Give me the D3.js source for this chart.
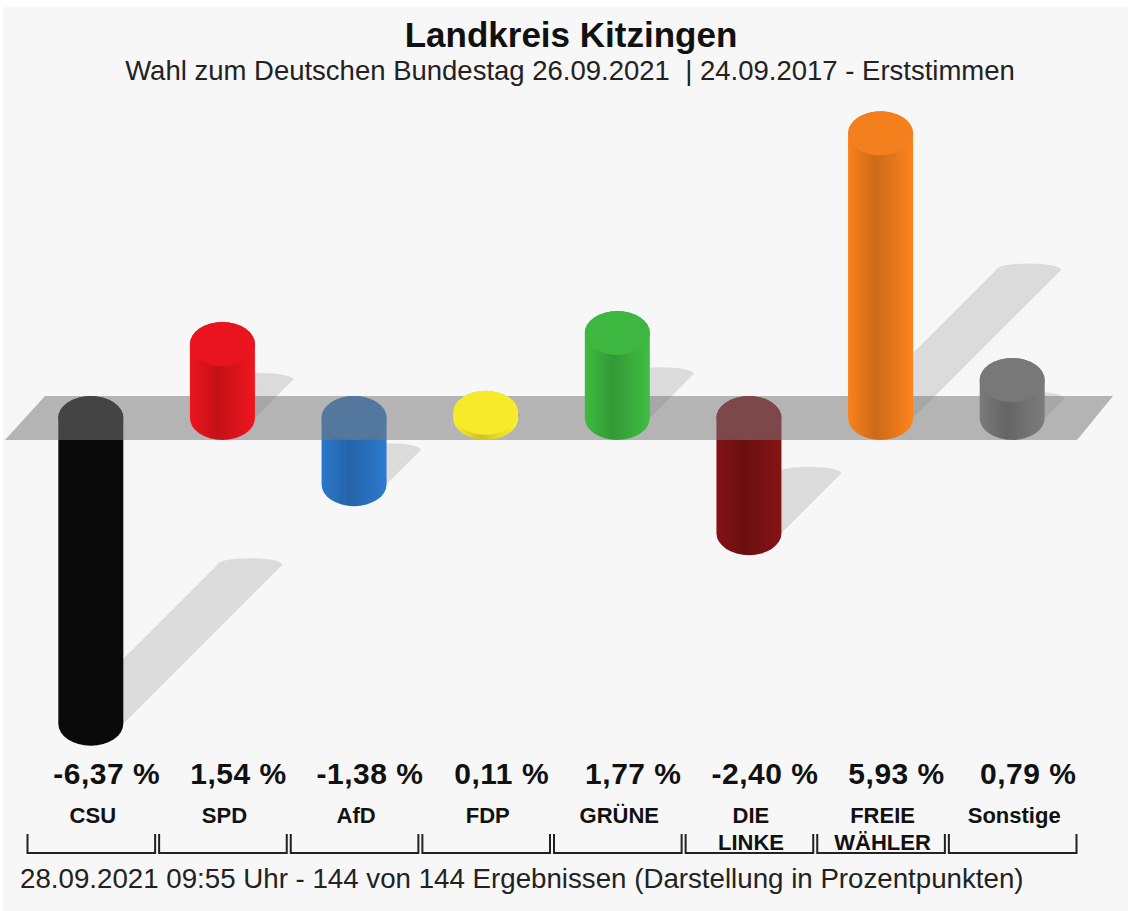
<!DOCTYPE html>
<html>
<head>
<meta charset="utf-8">
<script src="https://cdn.jsdelivr.net/npm/d3@7"></script>
<style>
  body { margin: 0; background: #fff; }
  svg { display: block; font-family: "Liberation Sans", Arial, sans-serif; }
</style>
</head>
<body>
<svg id="chart" width="1131" height="911"></svg>
<script>
const parties = ["CSU", "SPD", "AfD", "FDP", "GRÜNE", "DIE LINKE", "FREIE WÄHLER", "Sonstige"];
const labelLines = [["CSU"], ["SPD"], ["AfD"], ["FDP"], ["GRÜNE"], ["DIE", "LINKE"], ["FREIE", "WÄHLER"], ["Sonstige"]];
const diffs = [-6.37, 1.54, -1.38, 0.11, 1.77, -2.40, 5.93, 0.79];
const partyColors = ["#0a0a0a", "#e5141c", "#2a74c4", "#f2e62a", "#3cb43f", "#7e1214", "#f07d1c", "#767676"];

const svg = d3.select("#chart");
const W = 1131, H = 911;

const x = d3.scaleBand().domain(parties).range([27, 1080]).padding(0);
const y = d3.scaleLinear().domain([-7, 7]).range([754, 82]);

const rx = 32.5, ry = 22;
const cx = d => x(d) + x.bandwidth() / 2 - 2;

const de = d3.formatLocale({ decimal: ",", thousands: ".", grouping: [3], currency: ["", " €"], minus: "-" });
const fmt = de.format(".2f");

const data = parties.map((p, i) => ({ party: p, lines: labelLines[i], value: diffs[i], color: partyColors[i], i }));

// background
svg.append("rect").attr("x", 3).attr("y", 7).attr("width", W - 6).attr("height", H - 7).attr("fill", "#f7f7f7");

// gradients
const defs = svg.append("defs");
data.forEach(d => {
  const base = d3.color(d.color);
  const g = defs.append("linearGradient").attr("id", "grad" + d.i)
    .attr("x1", 0).attr("x2", 1).attr("y1", 0).attr("y2", 0);
  g.append("stop").attr("offset", "0%").attr("stop-color", base.brighter(0.1));
  g.append("stop").attr("offset", "42%").attr("stop-color", base.darker(0.45));
  g.append("stop").attr("offset", "85%").attr("stop-color", base);
  g.append("stop").attr("offset", "100%").attr("stop-color", base.brighter(0.15));
});

// title
svg.append("text").attr("x", 571).attr("y", 47).attr("text-anchor", "middle")
  .attr("font-size", 35).attr("font-weight", "bold").attr("fill", "#111")
  .text("Landkreis Kitzingen");
svg.append("text").attr("x", 570).attr("y", 80).attr("text-anchor", "middle")
  .attr("font-size", 27.5).attr("fill", "#222")
  .style("white-space", "pre")
  .text("Wahl zum Deutschen Bundestag 26.09.2021  | 24.09.2017 - Erststimmen");

const y0 = y(0);

function cylinder(d) {
  const c = cx(d.party);
  const top = Math.min(y(d.value), y0), bot = Math.max(y(d.value), y0);
  return `M${c - rx},${top} A${rx},${ry} 0 0 1 ${c + rx},${top} L${c + rx},${bot} A${rx},${ry} 0 0 1 ${c - rx},${bot} Z`;
}

function shadow(d) {
  const c = cx(d.party);
  const len = Math.abs(y(d.value) - y0);
  const by = d.value >= 0 ? y0 : y(d.value);
  const s = len * 0.52;
  const ex = c + s, ey = by - s;
  return `M${c - rx},${by} L${ex - rx},${ey} A${rx},${ry * 0.3} 0 0 1 ${ex + rx},${ey} L${c + rx},${by} Z`;
}

// shadows
svg.append("g").selectAll("path").data(data).join("path")
  .attr("d", shadow)
  .attr("fill", "#000").attr("fill-opacity", 0.11);

function drawBars(sel) {
  const g = svg.append("g").selectAll("g").data(sel).join("g");
  g.append("path").attr("d", cylinder).attr("fill", d => `url(#grad${d.i})`);
  g.append("ellipse")
    .attr("cx", d => cx(d.party))
    .attr("cy", d => Math.min(y(d.value), y0))
    .attr("rx", rx).attr("ry", ry)
    .attr("fill", d => d3.color(d.color).brighter(0.05));
}

// negative bars hang behind the plane
drawBars(data.filter(d => d.value < 0));

// zero plane
const bx0 = x.range()[0], bx1 = x.range()[1];
svg.append("path")
  .attr("d", `M${bx0 + 18},${y0 - ry} L${bx1 + 33},${y0 - ry} L${bx1 - 3},${y0 + ry} L${bx0 - 22},${y0 + ry} Z`)
  .attr("fill", "#797979").attr("fill-opacity", 0.53);

drawBars(data.filter(d => d.value >= 0));

// values
svg.append("g").selectAll("text").data(data).join("text")
  .attr("x", d => cx(d.party) + 16)
  .attr("y", 784)
  .attr("text-anchor", "middle")
  .attr("font-size", 30).attr("font-weight", "bold").attr("fill", "#111")
  .attr("letter-spacing", 0.5)
  .text(d => fmt(d.value) + " %");

// category labels
const lab = svg.append("g").selectAll("text").data(data).join("text")
  .attr("x", d => cx(d.party) + 2)
  .attr("y", 823)
  .attr("text-anchor", "middle")
  .attr("font-size", 22).attr("font-weight", "bold").attr("fill", "#111");
lab.selectAll("tspan").data(d => d.lines.map(t => ({ t, x: cx(d.party) + 2 }))).join("tspan")
  .attr("x", t => t.x)
  .attr("dy", (t, j) => j === 0 ? 0 : 27)
  .text(t => t.t);

// brackets
svg.append("g").selectAll("path").data(parties).join("path")
  .attr("d", p => {
    const a = x(p) + 0.5, b = x(p) + x.bandwidth() - 3.5;
    return `M${a},834 L${a},853 L${b},853 L${b},834`;
  })
  .attr("fill", "none").attr("stroke", "#222").attr("stroke-width", 2);

// footer
svg.append("text").attr("x", 20).attr("y", 888)
  .attr("font-size", 27.7).attr("fill", "#222")
  .text("28.09.2021 09:55 Uhr - 144 von 144 Ergebnissen (Darstellung in Prozentpunkten)");
</script>
</body>
</html>
